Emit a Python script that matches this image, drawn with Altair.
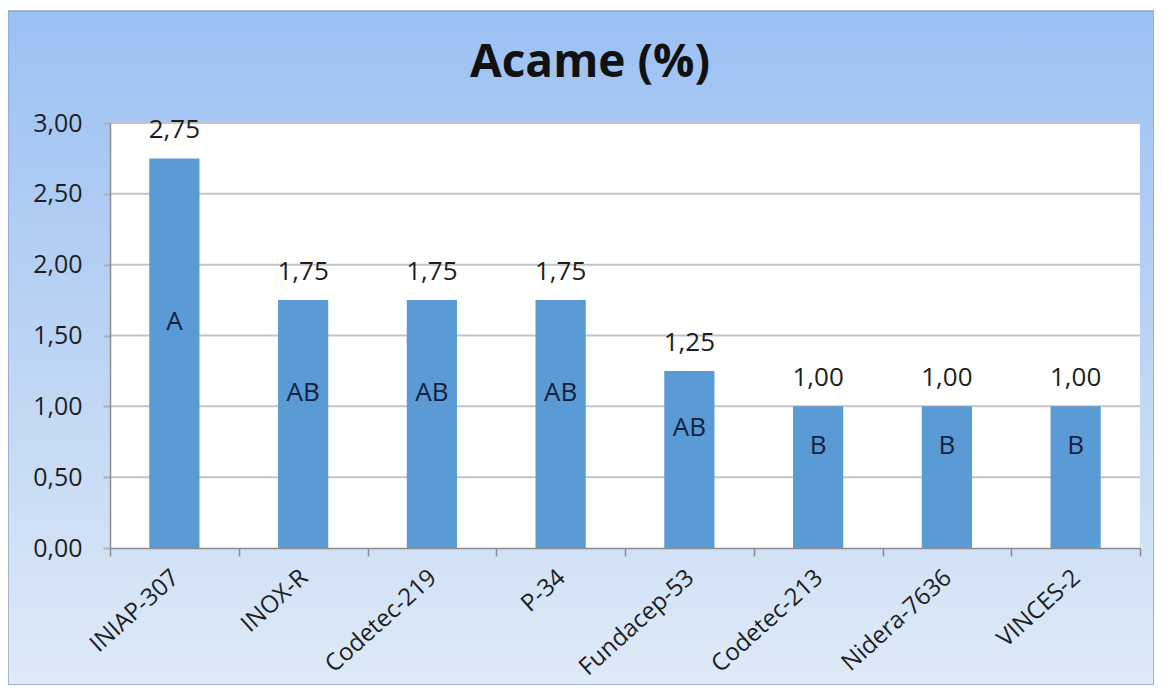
import altair as alt
import pandas as pd

# ---- data ----
categories = ["INIAP-307", "INOX-R", "Codetec-219", "P-34",
              "Fundacep-53", "Codetec-213", "Nidera-7636", "VINCES-2"]
values = [2.75, 1.75, 1.75, 1.75, 1.25, 1.00, 1.00, 1.00]
groups = ["A", "AB", "AB", "AB", "AB", "B", "B", "B"]
y_ticks = [0.0, 0.5, 1.0, 1.5, 2.0, 2.5, 3.0]
title_text = "Acame (%)"

# ---- layout ----
W, H = 1030, 425
PL, PT, PR, PB = 102, 115, 14, 137
FONT = "Open Sans"

df = pd.DataFrame({"cat": categories, "val": values, "grp": groups})
grid_df = pd.DataFrame({"t": y_ticks[1:]})
one = pd.DataFrame({"k": [0]})

num_fmt = "replace(format(datum.value, '.2f'), '.', ',')"

xscale = alt.Scale(paddingInner=0, paddingOuter=0)
yscale = alt.Scale(domain=[0, 3], nice=False)

x_axis = alt.Axis(
    title=None, labelAngle=318, labelAlign="right", labelBaseline="middle",
    labelFont=FONT, labelFontSize=24, labelColor="#1e1e1e",
    labelPadding=18, labelOffset=1,
    tickBand="extent", tickSize=8, tickColor="#8c8c8c", tickWidth=1.5,
    domainColor="#8c8c8c", domainWidth=1.5, grid=False, zindex=1,
)
y_axis = alt.Axis(
    title=None, values=y_ticks, labelExpr=num_fmt,
    labelFont=FONT, labelFontSize=25, labelColor="#1e1e1e",
    labelPadding=21, tickSize=7, tickColor="#b0b0b0", tickWidth=2,
    domainColor="#8c8c8c", domainWidth=1.5, grid=False, zindex=1,
)

bg = alt.Chart(one).mark_rect(
    fill=alt.LinearGradient(
        gradient="linear", x1=0, x2=0, y1=0, y2=1,
        stops=[alt.GradientStop(color="#9bc1f3", offset=0),
               alt.GradientStop(color="#bcd4f4", offset=0.5),
               alt.GradientStop(color="#dfeaf8", offset=1)],
    ),
    stroke="#8fa8c8", strokeWidth=1.5,
).encode(
    x=alt.value(-PL), x2=alt.value(W + PR),
    y=alt.value(-PT + 3), y2=alt.value(H + PB),
)

plot_bg = alt.Chart(one).mark_rect(fill="white").encode(
    x=alt.value(0), x2=alt.value(W), y=alt.value(0), y2=alt.value(H)
)

title = alt.Chart(one).mark_text(
    text=title_text, font=FONT, fontSize=46, fontWeight="bold",
    color="#111111", align="center", baseline="alphabetic",
).encode(x=alt.value(480), y=alt.value(-46))

grid = alt.Chart(grid_df).mark_rule(color="#c4c4c4", strokeWidth=2).encode(
    y=alt.Y("t:Q", scale=yscale, axis=y_axis)
)

base = alt.Chart(df)


def xenc():
    return alt.X("cat:N", sort=categories, scale=xscale, axis=x_axis)


bars = base.mark_bar(color="#5b9bd5", width={"band": 0.39}).encode(
    x=xenc(),
    y=alt.Y("val:Q", scale=yscale, axis=y_axis),
)

val_labels = base.mark_text(
    font=FONT, fontSize=26, color="#1e1e1e", baseline="alphabetic", dy=-20
).encode(
    x=xenc(),
    y=alt.Y("val:Q", scale=yscale, axis=y_axis),
    text=alt.Text("lbl:N"),
).transform_calculate(lbl="replace(format(datum.val, '.2f'), '.', ',')")

letters = base.mark_text(
    font=FONT, fontSize=26, color="#10223f", baseline="middle"
).encode(
    x=xenc(),
    y=alt.Y("ly:Q", scale=yscale, axis=y_axis),
    text="grp:N",
).transform_calculate(ly="datum.val * 0.5 + 0.22")

chart = alt.layer(bg, plot_bg, title, grid, bars, val_labels, letters).properties(
    width=W, height=H,
    padding={"left": PL, "top": PT, "right": PR, "bottom": PB},
    autosize="none",
    background="white",
).configure_view(strokeWidth=0)

chart.save("out.html", embed_options={"renderer": "svg", "actions": False})
